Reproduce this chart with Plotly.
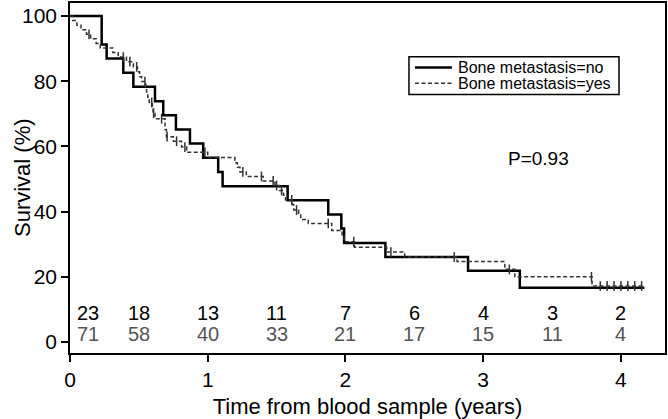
import numpy as np
import plotly.graph_objects as go

# ---- Data ----
series_names = ["Bone metastasis=no", "Bone metastasis=yes"]

times_no = [0, 0.23, 0.266, 0.387, 0.46, 0.617, 0.677, 0.769, 0.871, 0.967,
            1.076, 1.108, 1.58, 1.875, 1.97, 1.99, 2.29, 2.89, 3.266, 4.17]
surv_no = [100, 91.3, 87.0, 82.6, 78.3, 73.9, 69.6, 65.2, 60.9, 56.5,
           52.2, 47.8, 43.5, 39.1, 34.8, 30.4, 26.1, 21.9, 16.7, 16.7]

times_yes = [0, 0.02, 0.05, 0.08, 0.12, 0.15, 0.19, 0.22, 0.31, 0.35,
             0.41, 0.46, 0.49, 0.505, 0.52, 0.55, 0.556, 0.565, 0.575, 0.598,
             0.603, 0.617, 0.69, 0.70, 0.75, 0.81, 0.847, 1.0, 1.197, 1.215,
             1.234, 1.28, 1.403, 1.488, 1.52, 1.55, 1.565, 1.615, 1.625, 1.66,
             1.675, 1.73, 1.90, 1.975, 1.99, 2.065, 2.30, 2.43, 2.81, 3.157,
             3.23, 3.79, 4.17]
surv_yes = [100, 98.6, 97.2, 95.8, 94.4, 93.0, 91.6, 90.2, 88.8, 87.4,
            86.0, 84.4, 82.9, 81.4, 79.9, 78.3, 76.7, 75.1, 73.5, 71.8,
            70.2, 68.5, 65.2, 63.0, 61.6, 59.8, 58.2, 56.6, 55.0, 53.6,
            52.2, 50.8, 49.4, 48.0, 46.5, 45.0, 43.6, 42.1, 40.5, 39.0,
            37.6, 36.4, 34.2, 32.5, 30.8, 29.1, 27.6, 26.1, 24.7, 22.3,
            20.0, 17.2, 17.2]

censor_yes = [0.138, 0.387, 0.435, 0.484, 0.544, 0.593, 0.607, 0.665, 0.705,
              0.774, 0.834, 0.98, 1.255, 1.39, 1.475, 1.50, 1.536, 1.61, 1.645,
              1.875, 2.06, 2.33, 2.79, 3.19, 3.786, 3.85, 3.9, 3.95, 4.0, 4.05,
              4.1, 4.15]

risk_times = [0, 0.5, 1, 1.5, 2, 2.5, 3, 3.5, 4]
risk_no = [23, 18, 13, 11, 7, 6, 4, 3, 2]
risk_yes = [71, 58, 40, 33, 21, 17, 15, 11, 4]

p_value_text = "P=0.93"
x_ticks = [0, 1, 2, 3, 4]
y_ticks = [0, 20, 40, 60, 80, 100]
x_title = "Time from blood sample (years)"
y_title = "Survival (%)"

FONT = "Liberation Sans, Arial, Helvetica, sans-serif"
C_NO = "black"
C_YES = "#333333"
DASH_YES = "4px,2.5px"

# step lookup for censor marks
t_arr = np.array(times_yes)
s_arr = np.array(surv_yes)
cens_y = [float(s_arr[np.searchsorted(t_arr, c, side="right") - 1]) for c in censor_yes]

fig = go.Figure()
fig.add_trace(go.Scatter(
    x=times_no, y=surv_no, mode="lines", line_shape="hv", showlegend=False,
    line=dict(color=C_NO, width=2.5), name=series_names[0]))
fig.add_trace(go.Scatter(
    x=times_yes, y=surv_yes, mode="lines", line_shape="hv", showlegend=False,
    line=dict(color=C_YES, width=1.5, dash=DASH_YES), name=series_names[1]))
fig.add_trace(go.Scatter(
    x=censor_yes, y=cens_y, mode="markers", showlegend=False,
    marker=dict(symbol="line-ns", size=7, line=dict(color=C_YES, width=1.5))))

# number at risk
ann = []
for i, t in enumerate(risk_times):
    xpos = t + 0.13 if i == 0 else t
    ann.append(dict(x=xpos, y=8.8, text=str(risk_no[i]), showarrow=False,
                    xanchor="center", yanchor="middle",
                    font=dict(family=FONT, size=20, color="black")))
    ann.append(dict(x=xpos, y=2.6, text=str(risk_yes[i]), showarrow=False,
                    xanchor="center", yanchor="middle",
                    font=dict(family=FONT, size=20, color="#555555")))
ann.append(dict(x=3.40, y=56.4, text=p_value_text, showarrow=False,
                xanchor="center", yanchor="middle",
                font=dict(family=FONT, size=19, color="black")))

# y-axis title as rotated annotation
ann.append(dict(xref="paper", yref="paper", x=-48 / 595, y=0.5, text=y_title,
                textangle=-90, showarrow=False, xanchor="center", yanchor="middle",
                font=dict(family=FONT, size=22, color="black")))

# manual legend (box, line samples, labels)
leg_box = dict(x0=2.461, x1=3.986, y0=75.9, y1=87.5)
leg_rows_y = [84.2, 79.4]
shapes = [dict(type="rect", xref="x", yref="y", **leg_box,
               line=dict(color="black", width=1.5), fillcolor="white", layer="above")]
styles = [dict(color=C_NO, width=2.5), dict(color=C_YES, width=1.5, dash=DASH_YES)]
for yy, st, nm in zip(leg_rows_y, styles, series_names):
    shapes.append(dict(type="line", xref="x", yref="y", x0=2.505, x1=2.773,
                       y0=yy, y1=yy, line=st, layer="above"))
    ann.append(dict(x=2.80, y=yy, text=nm, showarrow=False, xanchor="left",
                    yanchor="middle", font=dict(family=FONT, size=16, color="black")))

fig.update_layout(
    width=668, height=419,
    margin=dict(l=70, r=3, t=1, b=66),
    plot_bgcolor="white", paper_bgcolor="white",
    font=dict(family=FONT, color="black"),
    annotations=ann, shapes=shapes, showlegend=False,
    xaxis=dict(range=[0, 4.32], tickvals=x_ticks, ticks="outside", ticklen=7,
               tickwidth=1.5, tickcolor="black", showline=True, linecolor="black",
               linewidth=1.5, mirror=True, showgrid=False, zeroline=False,
               tickfont=dict(family=FONT, size=21),
               title=dict(text=x_title, font=dict(family=FONT, size=22), standoff=10)),
    yaxis=dict(range=[-3.35, 104.0], tickvals=y_ticks, ticks="outside", ticklen=7,
               tickwidth=1.5, tickcolor="black", showline=True, linecolor="black",
               linewidth=1.5, mirror=True, showgrid=False, zeroline=False,
               tickfont=dict(family=FONT, size=21)),
)

fig.write_html("out.html", config={"displayModeBar": False},
               post_script="document.body.style.margin='0px';document.body.style.overflow='hidden';")
